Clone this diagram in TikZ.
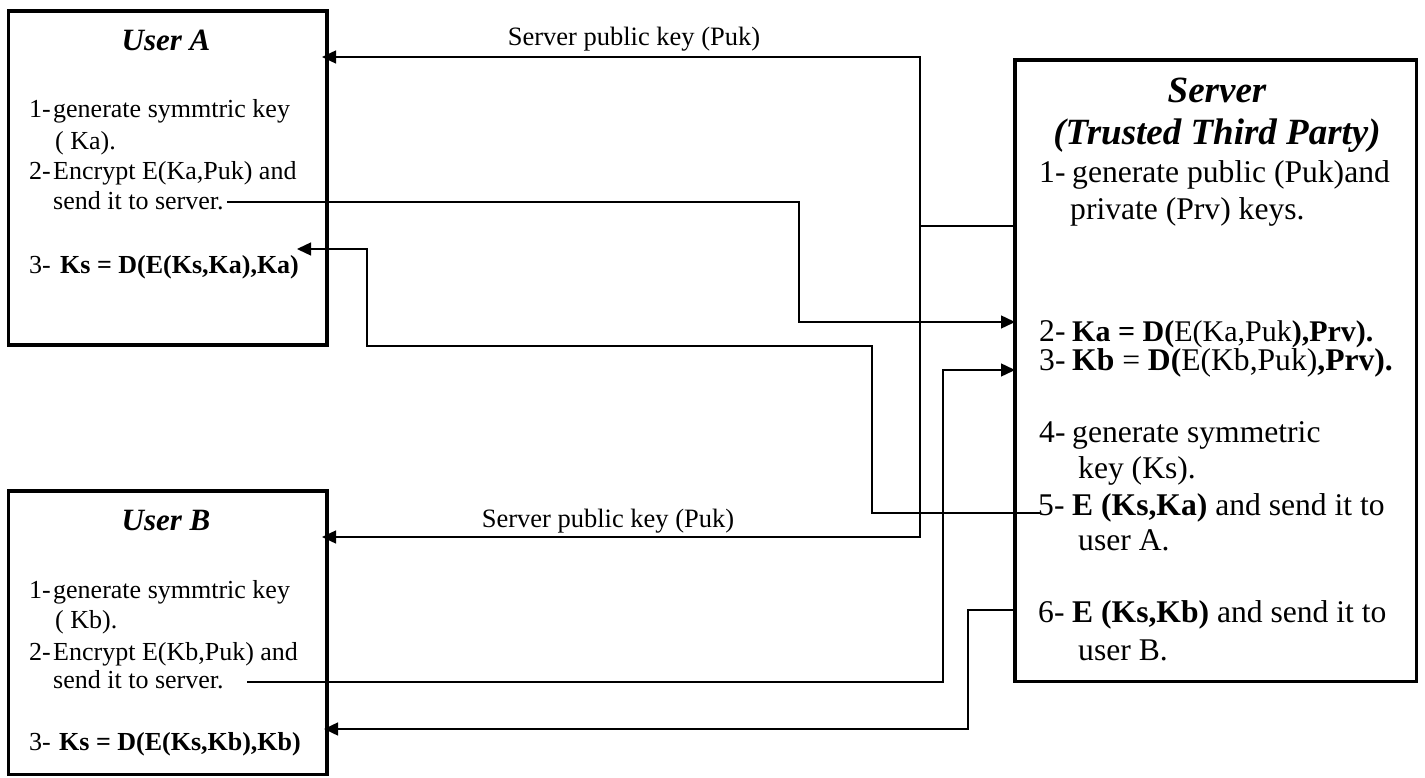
\documentclass[tikz,border=0pt]{standalone}
\usepackage{fontspec}
\setmainfont{Liberation Serif}
\usetikzlibrary{arrows.meta}
\begin{document}
\begin{tikzpicture}[x=1pt,y=-1pt,
  box/.style={draw,line width=3.5pt,outer sep=0pt,inner sep=0pt,anchor=north west},
  conn/.style={line width=1.4pt},
  arr/.style={conn,-{Triangle[length=14pt,width=13pt]}},
  body/.style={anchor=base west,inner sep=0pt,font=\fontsize{26}{30}\selectfont},
  sbody/.style={anchor=base west,inner sep=0pt,font=\fontsize{31.6}{36}\selectfont},
  sbodytight/.style={anchor=base west,inner sep=0pt,font=\fontsize{30}{36}\selectfont},
  utitle/.style={anchor=base,inner sep=0pt,font=\fontsize{31}{36}\selectfont\bfseries\itshape},
  stitle/.style={anchor=base,inner sep=0pt,font=\fontsize{37}{42}\selectfont\bfseries\itshape},
  lbl/.style={anchor=base,inner sep=0pt,font=\fontsize{26.5}{30}\selectfont}]
\useasboundingbox (0,0) rectangle (1425,778);

% ---- boxes ----
\node[box,minimum width=318.5pt,minimum height=334pt] (ua) at (8.5,11) {};
\node[box,minimum width=318.5pt,minimum height=283.5pt] (ub) at (8.5,491) {};
\node[box,minimum width=401.5pt,minimum height=621.5pt] (srv) at (1015,60) {};

% ---- User A ----
\node[utitle] (uaT) at (166,51) {User A};
\node[body] (a1n) at (29,118) {1-};
\node[body] (a1t) at (53,118) {generate symmtric key};
\node[body] (a1c) at (55,150) {( Ka).};
\node[body] (a2n) at (29,180) {2-};
\node[body] (a2t) at (53,180) {Encrypt E(Ka,Puk) and};
\node[body] (a2c) at (53,210) {send it to server.};
\node[body] (a3n) at (29,273) {3-};
\node[body] (a3t) at (60,273) {\textbf{Ks = D(E(Ks,Ka),Ka)}};

% ---- User B ----
\node[utitle] (ubT) at (166,530) {User B};
\node[body] (b1n) at (29,598) {1-};
\node[body] (b1t) at (53,598) {generate symmtric key};
\node[body] (b1c) at (55,628) {( Kb).};
\node[body] (b2n) at (29,660) {2-};
\node[body] (b2t) at (53,660) {Encrypt E(Kb,Puk) and};
\node[body] (b2c) at (53,688) {send it to server.};
\node[body] (b3n) at (29,750) {3-};
\node[body] (b3t) at (59,750) {\textbf{Ks = D(E(Ks,Kb),Kb)}};

% ---- Server ----
\node[stitle] (sT1) at (1217,103) {Server};
\node[stitle] (sT2) at (1217,145) {(Trusted Third Party)};
\node[sbody] (s1n) at (1039,183) {1-};
\node[sbody] (s1t) at (1072,183) {generate public (Puk)and};
\node[sbody] (s1c) at (1070,220) {private (Prv) keys.};
\node[sbody] (s2n) at (1039,341) {2-};
\node[sbodytight] (s2t) at (1072,341) {\textbf{Ka = D(}E(Ka,Puk\textbf{),Prv).}};
\node[sbody] (s3n) at (1039,370) {3-};
\node[sbody] (s3t) at (1072,370) {\textbf{Kb} = \textbf{D(}E(Kb,Puk)\textbf{,Prv).}};
\node[sbody] (s4n) at (1039,442) {4-};
\node[sbody] (s4t) at (1072,442) {generate symmetric};
\node[sbody] (s4c) at (1078,478) {key (Ks).};
\node[sbody] (s5n) at (1038,515) {5-};
\node[sbody] (s5t) at (1072,515) {\textbf{E (Ks,Ka)} and send it to};
\node[sbody] (s5c) at (1078,550) {user A.};
\node[sbody] (s6n) at (1038,622) {6-};
\node[sbody] (s6t) at (1072,622) {\textbf{E (Ks,Kb)} and send it to};
\node[sbody] (s6c) at (1078,660) {user B.};

% ---- connector labels ----
\node[lbl] (pkA) at (634,46) {Server public key (Puk)};
\node[lbl] (pkB) at (608,527) {Server public key (Puk)};

% ---- routing points ----
\coordinate (pkSplit) at (920,226);
\coordinate (pkTop) at (920,57);
\coordinate (pkBot) at (920,537);
\coordinate (aSend) at (227,202);
\coordinate (aBend) at (799,202);
\coordinate (kaIn) at (799,322);
\coordinate (ksOut) at (1040,513);
\coordinate (ksBend1) at (872,513);
\coordinate (ksBend2) at (872,346);
\coordinate (ksBend3) at (367,346);
\coordinate (ksBend4) at (367,249);
\coordinate (ksTip) at (297,249);
\coordinate (bSend) at (247,682);
\coordinate (bBend) at (943,682);
\coordinate (kbIn) at (943,370);
\coordinate (kbOut) at (968,610);
\coordinate (kbBend) at (968,729);

% ---- public key to both users ----
\draw[conn] (srv.west |- pkSplit) -- (pkSplit);
\draw[arr,shorten >=-5pt] (pkSplit) -- (pkTop) -- (ua.east |- pkTop);
\draw[arr,shorten >=-5pt] (pkSplit) -- (pkBot) -- (ub.east |- pkBot);

% ---- encrypted Ka to server ----
\draw[arr] (aSend) -- (aBend) -- (kaIn) -- (srv.west |- kaIn);

% ---- encrypted Kb to server ----
\draw[arr] (bSend) -- (bBend) -- (kbIn) -- (srv.west |- kbIn);

% ---- E(Ks,Ka) back to user A ----
\draw[arr] (ksOut) -- (ksBend1) -- (ksBend2) -- (ksBend3) -- (ksBend4) -- (ksTip);

% ---- E(Ks,Kb) back to user B ----
\draw[arr,shorten >=-3pt] (srv.west |- kbOut) -- (kbOut) -- (kbBend) -- (ub.east |- kbBend);
\end{tikzpicture}
\end{document}
